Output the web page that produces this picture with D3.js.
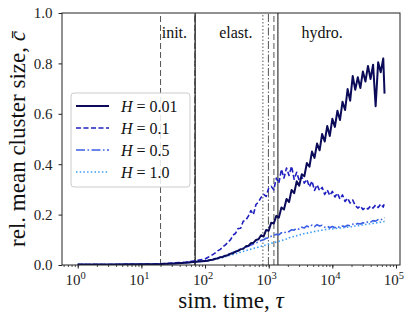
<!DOCTYPE html>
<html><head><meta charset="utf-8">
<script src="https://cdn.jsdelivr.net/npm/d3@7"></script>
<style>body{margin:0;background:#fff} svg text{font-family:"Liberation Serif","DejaVu Serif",serif;}</style>
</head><body>
<svg id="c" width="414" height="323"></svg>
<script>
const tau = [1, 3.2, 10, 20, 32, 50, 71,
 100, 110, 120, 132, 145, 158, 174, 191, 209, 229, 251, 275, 302, 331, 363, 398, 437, 479, 525, 575, 631, 692, 759, 832, 912,
 1000, 1096, 1202, 1318, 1445, 1585, 1738, 1905, 2089, 2291, 2512, 2754, 3020, 3311, 3631, 3981, 4365, 4786, 5248, 5754, 6310, 6918, 7586, 8318, 9120,
 10000, 10965, 12023, 13183, 14454, 15849, 17378, 19055, 20893, 22909, 25119, 27542, 30200, 33113, 36308, 39811, 43652, 47863, 52481, 57544, 63096, 66069];

const cH001 = [0.002, 0.002, 0.003, 0.004, 0.006, 0.009, 0.013,
 0.016, 0.017, 0.020, 0.021, 0.025, 0.026, 0.031, 0.032, 0.037, 0.039, 0.045, 0.047, 0.053, 0.056, 0.063, 0.064, 0.074, 0.076, 0.086, 0.088, 0.099, 0.102, 0.118, 0.113, 0.139,
 0.136, 0.168, 0.165, 0.195, 0.188, 0.228, 0.220, 0.262, 0.250, 0.298, 0.285, 0.332, 0.315, 0.360, 0.352, 0.405, 0.390, 0.450, 0.425, 0.482, 0.455, 0.520, 0.490, 0.552, 0.512,
 0.580, 0.548, 0.612, 0.575, 0.648, 0.615, 0.698, 0.652, 0.750, 0.695, 0.745, 0.702, 0.768, 0.728, 0.790, 0.738, 0.795, 0.630, 0.805, 0.765, 0.820, 0.680];

const cH01 = [0.002, 0.002, 0.003, 0.005, 0.008, 0.012, 0.017,
 0.024, 0.030, 0.035, 0.041, 0.048, 0.056, 0.062, 0.072, 0.080, 0.090, 0.100, 0.118, 0.126, 0.145, 0.146, 0.174, 0.178, 0.194, 0.216, 0.200, 0.240, 0.250, 0.268, 0.280, 0.272,
 0.305, 0.312, 0.298, 0.345, 0.325, 0.380, 0.345, 0.385, 0.355, 0.392, 0.340, 0.368, 0.335, 0.350, 0.325, 0.340, 0.310, 0.333, 0.296, 0.318, 0.295, 0.308, 0.280, 0.298, 0.276,
 0.292, 0.270, 0.285, 0.262, 0.278, 0.252, 0.265, 0.246, 0.258, 0.236, 0.226, 0.234, 0.220, 0.228, 0.222, 0.234, 0.226, 0.238, 0.228, 0.242, 0.230, 0.248];

const cH05 = [0.002, 0.002, 0.003, 0.004, 0.006, 0.009, 0.013,
 0.016, 0.018, 0.020, 0.022, 0.025, 0.028, 0.031, 0.034, 0.038, 0.042, 0.046, 0.050, 0.054, 0.058, 0.062, 0.066, 0.070, 0.074, 0.079, 0.083, 0.088, 0.092, 0.097, 0.100, 0.106,
 0.108, 0.114, 0.117, 0.122, 0.120, 0.128, 0.126, 0.134, 0.132, 0.140, 0.138, 0.146, 0.142, 0.150, 0.147, 0.155, 0.150, 0.158, 0.152, 0.160, 0.155, 0.158, 0.150, 0.154, 0.148,
 0.153, 0.148, 0.152, 0.149, 0.155, 0.152, 0.158, 0.156, 0.162, 0.160, 0.165, 0.163, 0.168, 0.166, 0.172, 0.170, 0.176, 0.174, 0.180, 0.178, 0.186, 0.188];

const cH10 = [0.002, 0.002, 0.003, 0.004, 0.006, 0.009, 0.012,
 0.015, 0.017, 0.019, 0.021, 0.023, 0.025, 0.028, 0.030, 0.033, 0.036, 0.039, 0.042, 0.045, 0.048, 0.051, 0.054, 0.057, 0.060, 0.063, 0.066, 0.068, 0.071, 0.074, 0.077, 0.080,
 0.083, 0.086, 0.089, 0.091, 0.094, 0.097, 0.100, 0.103, 0.108, 0.110, 0.114, 0.116, 0.120, 0.121, 0.125, 0.126, 0.129, 0.130, 0.133, 0.134, 0.137, 0.138, 0.140, 0.141, 0.143,
 0.143, 0.145, 0.146, 0.147, 0.148, 0.149, 0.150, 0.152, 0.152, 0.155, 0.156, 0.158, 0.159, 0.161, 0.162, 0.164, 0.165, 0.167, 0.168, 0.170, 0.172, 0.174];

const hValues = ["0.01", "0.1", "0.5", "1.0"];
const phaseNames = ["init.", "elast.", "hydro."];
const phaseNameTau = [33, 305, 6900];
const initMarkTau = 20;
const elastStartTau = [70, 69, 70, 70];
const hydroStartTau = [1396, 1208, 990, 811];
const xTickValues = [1, 10, 100, 1000, 10000, 100000];
const yTickValues = [0, 0.2, 0.4, 0.6, 0.8, 1.0];

const colors = ["#0b0b59", "#1f1fc0", "#3a5de6", "#3d9df5"];
const dashes = [null, "5,2.5", "9,2.5,1.5,2.5", "1.5,2.2"];
const widths = [2, 1.6, 1.6, 1.6];
const series = [cH001, cH01, cH05, cH10];

const svg = d3.select("#c");
const L = 62, R = 400, T = 13, B = 265;
const x = d3.scaleLog().domain([0.566, 115600]).range([L, R]);
const y = d3.scaleLinear().domain([0, 1]).range([B, T]);

svg.append("defs").append("clipPath").attr("id", "clip")
  .append("rect").attr("x", L).attr("y", T).attr("width", R - L).attr("height", B - T);

// vertical phase lines
const vg = svg.append("g").attr("clip-path", "url(#clip)");
vg.append("line").attr("x1", x(initMarkTau)).attr("x2", x(initMarkTau)).attr("y1", y(0)).attr("y2", y(1))
  .attr("stroke", "#555").attr("stroke-width", 1).attr("stroke-dasharray", "6,3");
const vDash = [null, "6,3", "8,2,1.5,2", "1.5,2"];
elastStartTau.forEach((t, i) => {
  vg.append("line").attr("x1", x(t)).attr("x2", x(t)).attr("y1", y(0)).attr("y2", y(1))
    .attr("stroke", i === 0 ? "#111" : "#444").attr("stroke-width", 1)
    .attr("stroke-dasharray", vDash[i]);
});
hydroStartTau.forEach((t, i) => {
  vg.append("line").attr("x1", x(t)).attr("x2", x(t)).attr("y1", y(0)).attr("y2", y(1))
    .attr("stroke", i === 0 ? "#111" : "#555").attr("stroke-width", 1)
    .attr("stroke-dasharray", vDash[i]);
});

// phase names
phaseNames.forEach((n, i) => {
  svg.append("text").attr("x", x(phaseNameTau[i])).attr("y", y(0.92) + 5)
    .attr("text-anchor", "middle").attr("font-size", 16)
    .attr("fill", "#111").text(n);
});

// curves
const line = d3.line().x((d, i) => x(tau[i])).y(d => y(d));
const cg = svg.append("g").attr("clip-path", "url(#clip)");
[3, 2, 1, 0].forEach(k => {
  cg.append("path").datum(series[k]).attr("d", line).attr("fill", "none")
    .attr("stroke", colors[k]).attr("stroke-width", widths[k])
    .attr("stroke-dasharray", dashes[k]).attr("stroke-linejoin", "round");
});

// axes
const xAxis = svg.append("g").attr("transform", `translate(0,${B})`);
xAxis.call(d3.axisBottom(x).tickValues(x.ticks()).tickSize(2).tickFormat(""));
xAxis.select(".domain").remove();
xAxis.selectAll(".tick line").attr("stroke", "#222").attr("stroke-width", 0.8);
const xMaj = svg.append("g").attr("transform", `translate(0,${B})`);
xMaj.call(d3.axisBottom(x).tickValues(xTickValues).tickSize(3.5).tickFormat(""));
xMaj.select(".domain").remove();
xMaj.selectAll(".tick line").attr("stroke", "#222").attr("stroke-width", 1);
xTickValues.forEach(v => {
  const t = svg.append("text").attr("x", x(v) - 2).attr("y", B + 20)
    .attr("text-anchor", "middle").attr("font-size", 15).attr("fill", "#222");
  t.append("tspan").text("10");
  t.append("tspan").attr("dy", -6).attr("font-size", 10.5).text(String(Math.round(Math.log10(v))));
});

const yAxis = svg.append("g").attr("transform", `translate(${L},0)`);
yAxis.call(d3.axisLeft(y).tickValues(yTickValues).tickSize(3.5).tickPadding(6).tickFormat(d3.format(".1f")));
yAxis.select(".domain").remove();
yAxis.selectAll(".tick line").attr("stroke", "#222");
yAxis.selectAll(".tick text").attr("font-size", 15).attr("fill", "#222");

// frame
svg.append("rect").attr("x", L).attr("y", T).attr("width", R - L).attr("height", B - T)
  .attr("fill", "none").attr("stroke", "#222").attr("stroke-width", 1);

// axis labels
const xl = svg.append("text").attr("x", (L + R) / 2).attr("y", 308).attr("text-anchor", "middle")
  .attr("font-size", 23).attr("fill", "#111");
xl.append("tspan").text("sim. time, ");
xl.append("tspan").attr("font-style", "italic").text("τ");

const yl = svg.append("text").attr("transform", `translate(25,${(T + B) / 2}) rotate(-90)`)
  .attr("text-anchor", "middle").attr("font-size", 23).attr("fill", "#111");
yl.append("tspan").text("rel. mean cluster size, ");
yl.append("tspan").attr("font-style", "italic").text("c\u0304");

// legend
const lg = svg.append("g");
lg.append("rect").attr("x", 71).attr("y", 93).attr("width", 119).attr("height", 94).attr("rx", 3)
  .attr("fill", "#fff").attr("fill-opacity", 0.85).attr("stroke", "#ccc").attr("stroke-width", 1);
hValues.forEach((h, i) => {
  const yy = 106 + i * 22;
  lg.append("line").attr("x1", 76).attr("x2", 109).attr("y1", yy).attr("y2", yy)
    .attr("stroke", colors[i]).attr("stroke-width", widths[i]).attr("stroke-dasharray", dashes[i]);
  const t = lg.append("text").attr("x", 121).attr("y", yy + 5.5)
    .attr("font-size", 16).attr("fill", "#111");
  t.append("tspan").attr("font-style", "italic").text("H");
  t.append("tspan").text(" = " + h);
});
</script>
</body></html>
